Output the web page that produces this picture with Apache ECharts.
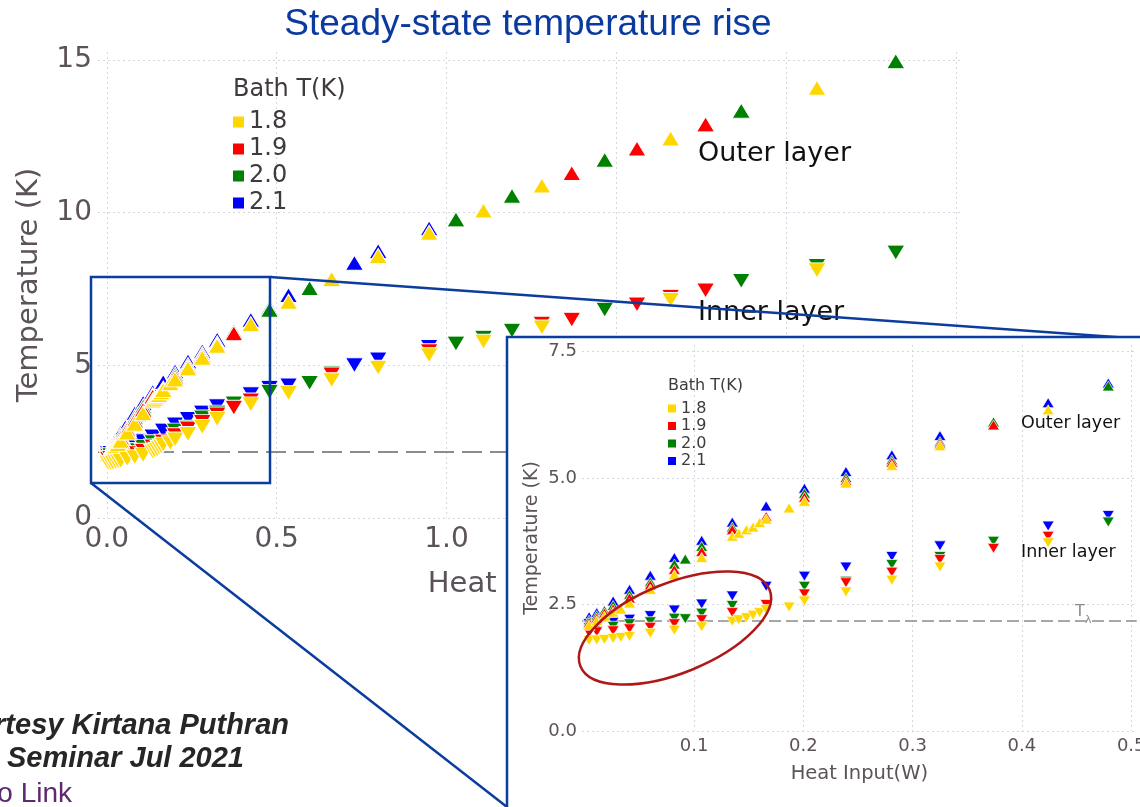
<!DOCTYPE html>
<html><head><meta charset="utf-8">
<script src="https://cdn.jsdelivr.net/npm/echarts@6/dist/echarts.min.js"></script>
<style>html,body{margin:0;padding:0;background:#fff}#c{width:1140px;height:807px}</style>
</head><body><div id="c"></div>
<script>
// ---------------- data ----------------
const bathTemps = ['1.8', '1.9', '2.0', '2.1'];
const tLambda = 2.17;
const mainXTicks = [0, 0.5, 1.0, 1.5, 2.0, 2.5];
const mainYTicks = [0, 5, 10, 15];
const insetXTicks = [0.1, 0.2, 0.3, 0.4, 0.5];
const insetYTicks = [0, 2.5, 5.0, 7.5];

// Outer layer (up triangles)
const outer18 = [[0.004,2.09],[0.011,2.18],[0.018,2.27],[0.026,2.35],[0.033,2.41],[0.041,2.53],[0.060,2.80],[0.082,3.09],[0.107,3.43],[0.135,3.85],[0.141,3.91],[0.148,3.98],[0.154,4.03],[0.160,4.12],[0.166,4.19],[0.187,4.41],[0.201,4.54],[0.239,4.90],[0.281,5.25],[0.325,5.64],[0.424,6.35],[0.535,7.08],[0.662,7.83],[0.799,8.58],[0.949,9.34],[1.109,10.07],[1.281,10.89],[1.660,12.43],[2.091,14.09]];
const outer19 = [[0.004,2.14],[0.011,2.23],[0.018,2.33],[0.026,2.41],[0.041,2.63],[0.060,2.89],[0.082,3.19],[0.107,3.55],[0.135,3.98],[0.166,4.24],[0.201,4.62],[0.239,4.95],[0.281,5.31],[0.325,5.68],[0.374,6.05],[1.369,11.30],[1.561,12.10],[1.763,12.89]];
const outer20 = [[0.004,2.19],[0.011,2.28],[0.018,2.38],[0.026,2.48],[0.041,2.70],[0.060,2.95],[0.082,3.30],[0.092,3.40],[0.107,3.65],[0.135,4.03],[0.201,4.70],[0.239,5.01],[0.281,5.36],[0.325,5.72],[0.374,6.11],[0.479,6.82],[0.597,7.53],[1.028,9.78],[1.193,10.55],[1.466,11.73],[1.868,13.34],[2.323,14.96]];
const outer21 = [[0.004,2.26],[0.011,2.34],[0.026,2.57],[0.041,2.80],[0.060,3.08],[0.082,3.43],[0.107,3.77],[0.135,4.13],[0.166,4.45],[0.201,4.80],[0.239,5.13],[0.281,5.46],[0.325,5.84],[0.424,6.49],[0.479,6.88],[0.535,7.30],[0.729,8.36],[0.799,8.74],[0.949,9.49]];

// Inner layer (down triangles)
const inner18 = [[0.004,1.79],[0.011,1.80],[0.018,1.81],[0.026,1.83],[0.033,1.85],[0.041,1.87],[0.060,1.93],[0.082,1.99],[0.107,2.06],[0.135,2.17],[0.141,2.20],[0.148,2.24],[0.154,2.29],[0.160,2.34],[0.166,2.40],[0.187,2.45],[0.201,2.57],[0.239,2.75],[0.281,2.98],[0.325,3.24],[0.424,3.72],[0.535,4.09],[0.662,4.51],[0.799,4.92],[0.949,5.33],[1.109,5.77],[1.281,6.24],[1.660,7.14],[2.091,8.11]];
const inner19 = [[0.004,1.94],[0.011,1.96],[0.026,1.98],[0.041,2.02],[0.060,2.05],[0.082,2.12],[0.107,2.20],[0.135,2.34],[0.166,2.50],[0.201,2.71],[0.239,2.93],[0.281,3.14],[0.325,3.39],[0.374,3.61],[0.424,3.85],[0.662,4.70],[0.949,5.46],[1.281,6.36],[1.369,6.49],[1.561,6.99],[1.660,7.24],[1.763,7.45]];
const inner20 = [[0.004,2.04],[0.011,2.05],[0.026,2.07],[0.041,2.12],[0.060,2.16],[0.082,2.23],[0.092,2.22],[0.107,2.33],[0.135,2.48],[0.201,2.86],[0.239,2.96],[0.281,3.29],[0.325,3.45],[0.374,3.75],[0.479,4.13],[0.597,4.42],[0.662,4.74],[1.028,5.71],[1.109,5.90],[1.193,6.13],[1.281,6.38],[1.466,6.82],[1.868,7.76],[2.091,8.25],[2.323,8.69]];
const inner21 = [[0.004,2.12],[0.011,2.13],[0.026,2.15],[0.041,2.21],[0.060,2.28],[0.082,2.39],[0.107,2.51],[0.135,2.67],[0.166,2.86],[0.201,3.06],[0.239,3.24],[0.281,3.45],[0.325,3.66],[0.424,4.05],[0.479,4.26],[0.535,4.34],[0.729,5.00],[0.799,5.19],[0.949,5.60]];

// ---------------- styles ----------------
const FONT = 'DejaVu Sans';
const TICK = '#5b5359';
const BLUE = '#0b3c9e';
const seriesColor = {'1.8':'#FFD700','1.9':'#FF0000','2.0':'#008000','2.1':'#0000FF'};
const dataByTemp = {
  '1.8': {outer: outer18, inner: inner18},
  '1.9': {outer: outer19, inner: inner19},
  '2.0': {outer: outer20, inner: inner20},
  '2.1': {outer: outer21, inner: inner21}
};
const drawOrder = ['2.1', '2.0', '1.9', '1.8'];

const series = [];
[0, 1].forEach(g => {
  drawOrder.forEach(t => {
    ['outer', 'inner'].forEach(layer => {
      const s = {
        type: 'scatter', name: t, xAxisIndex: g, yAxisIndex: g,
        data: dataByTemp[t][layer],
        symbol: 'triangle',
        symbolSize: g === 0 ? [18, 15] : [12, 10],
        symbolRotate: layer === 'inner' ? 180 : 0,
        itemStyle: {color: seriesColor[t], borderColor: '#ffffff', borderWidth: g === 0 ? 1 : 0.7, opacity: 1},
        z: g === 0 ? 2 : 10,
        silent: true, animation: false, clip: true,
        emphasis: {disabled: true}
      };
      if (t === '2.1' && layer === 'outer') {
        s.markLine = {
          silent: true, symbol: 'none', animation: false,
          z: g === 0 ? 1 : 9,
          label: {show: false},
          lineStyle: g === 0 ? {type: [20, 8], color: '#8c8c8c', width: 2}
                             : {type: [12, 5], color: '#8c8c8c', width: 1.5},
          data: [{yAxis: tLambda}]
        };
      }
      series.push(s);
    });
  });
});

function valAxis(o) {
  return Object.assign({
    type: 'value',
    axisLine: {show: false},
    nameLocation: 'middle',
    nameMoveOverlap: false
  }, o);
}

const gridLine = {show: true, lineStyle: {type: [2, 3], color: '#d6d6e0', width: 1}};

const option = {
  backgroundColor: '#ffffff',
  animation: false,
  grid: [
    {left: 98, top: 52, width: 864, height: 466, outerBoundsMode: 'none', containLabel: false},
    {left: 582, top: 345, width: 554.7, height: 386, outerBoundsMode: 'none', containLabel: false, z: 8}
  ],
  xAxis: [
    valAxis({gridIndex: 0, min: -0.026, max: 2.518, z: 0,
      axisTick: {show: false, customValues: mainXTicks},
      axisLabel: {customValues: mainXTicks, formatter: v => Number(v).toFixed(1), margin: 8, fontFamily: FONT, fontSize: 28, color: TICK},
      splitLine: gridLine,
      name: 'Heat Input(W)', nameGap: 52, nameTextStyle: {fontFamily: FONT, fontSize: 29, color: TICK}}),
    valAxis({gridIndex: 1, min: -0.0025, max: 0.505, z: 8,
      axisTick: {show: false, customValues: insetXTicks},
      axisLabel: {customValues: insetXTicks, formatter: v => Number(v).toFixed(1), margin: 6, fontFamily: FONT, fontSize: 18, color: TICK},
      splitLine: gridLine,
      name: 'Heat Input(W)', nameGap: 33, nameTextStyle: {fontFamily: FONT, fontSize: 19.5, color: TICK}})
  ],
  yAxis: [
    valAxis({gridIndex: 0, min: 0, max: 15.26, z: 0,
      axisTick: {show: false, customValues: mainYTicks},
      axisLabel: {customValues: mainYTicks, formatter: v => String(Math.round(v)), margin: 6, fontFamily: FONT, fontSize: 28, color: TICK},
      splitLine: gridLine,
      name: 'Temperature (K)', nameGap: 54, nameTextStyle: {fontFamily: FONT, fontSize: 29, color: TICK}}),
    valAxis({gridIndex: 1, min: 0, max: 7.63, z: 8,
      axisTick: {show: false, customValues: insetYTicks},
      axisLabel: {customValues: insetYTicks, formatter: v => Number(v).toFixed(1), margin: 5, fontFamily: FONT, fontSize: 18, color: TICK},
      splitLine: gridLine,
      name: 'Temperature (K)', nameGap: 40, nameTextStyle: {fontFamily: FONT, fontSize: 19, color: TICK}})
  ],
  legend: [
    {data: bathTemps, orient: 'vertical', left: 233, top: 110, icon: 'rect', itemWidth: 11, itemHeight: 11, itemGap: 3, padding: 0,
     selectedMode: false, itemStyle: {borderWidth: 0}, textStyle: {fontFamily: FONT, fontSize: 24, color: '#3e3a3e'}, z: 4},
    {data: bathTemps, orient: 'vertical', left: 668, top: 400.5, icon: 'rect', itemWidth: 8, itemHeight: 8, itemGap: 1.5, padding: 0,
     selectedMode: false, itemStyle: {borderWidth: 0}, textStyle: {fontFamily: FONT, fontSize: 16, color: '#3e3a3e'}, z: 11}
  ],
  series: series,
  graphic: [
    // main annotations
    {type: 'text', x: 233, y: 90, z: 3, style: {text: 'Bath T(K)', verticalAlign: 'middle', fontFamily: FONT, fontSize: 24, fill: '#3e3a3e'}},
    {type: 'text', x: 698, y: 154, z: 3, style: {text: 'Outer layer', verticalAlign: 'middle', fontFamily: FONT, fontSize: 27, fill: '#111111'}},
    {type: 'text', x: 698, y: 313, z: 3, style: {text: 'Inner layer', verticalAlign: 'middle', fontFamily: FONT, fontSize: 27, fill: '#111111'}},
    // zoom box and connectors
    {type: 'rect', z: 5, shape: {x: 91, y: 277, width: 179, height: 206}, style: {fill: 'none', stroke: BLUE, lineWidth: 2.5}},
    {type: 'line', z: 5, shape: {x1: 270, y1: 277, x2: 1145, y2: 339}, style: {stroke: BLUE, lineWidth: 2.5}},
    {type: 'line', z: 5, shape: {x1: 91, y1: 483, x2: 507, y2: 807}, style: {stroke: BLUE, lineWidth: 2.5}},
    // inset panel
    {type: 'rect', z: 6, shape: {x: 507, y: 337, width: 700, height: 520}, style: {fill: '#ffffff', stroke: BLUE, lineWidth: 2.5}},
    {type: 'text', x: 668, y: 386, z: 12, style: {text: 'Bath T(K)', verticalAlign: 'middle', fontFamily: FONT, fontSize: 16, fill: '#3e3a3e'}},
    {type: 'text', x: 1021, y: 423, z: 12, style: {text: 'Outer layer', verticalAlign: 'middle', fontFamily: FONT, fontSize: 17.5, fill: '#111111'}},
    {type: 'text', x: 1021, y: 552, z: 12, style: {text: 'Inner layer', verticalAlign: 'middle', fontFamily: FONT, fontSize: 17.5, fill: '#111111'}},
    {type: 'text', x: 1075, y: 612, z: 12, style: {text: 'T', verticalAlign: 'middle', fontFamily: FONT, fontSize: 16, fill: '#8c8c8c'}},
    {type: 'text', x: 1085, y: 620, z: 12, style: {text: 'λ', verticalAlign: 'middle', fontFamily: FONT, fontSize: 11, fill: '#8c8c8c'}},
    {type: 'ellipse', x: 675, y: 628, rotation: 22 * Math.PI / 180, z: 12,
     shape: {cx: 0, cy: 0, rx: 102, ry: 45}, style: {fill: 'none', stroke: '#b01818', lineWidth: 2.5}},
    // title
    {type: 'text', x: 528, y: 25, z: 20, style: {text: 'Steady-state temperature rise', align: 'center', verticalAlign: 'middle',
      fontFamily: 'Liberation Sans', fontSize: 37, fill: '#0a3aa0'}},
    // caption
    {type: 'text', x: 289, y: 726, z: 20, style: {text: 'Courtesy Kirtana Puthran', align: 'right', verticalAlign: 'middle',
      fontFamily: 'Liberation Sans', fontSize: 29, fontWeight: 'bold', fontStyle: 'italic', fill: '#262626'}},
    {type: 'text', x: 7, y: 759, z: 20, style: {text: 'Seminar Jul 2021', align: 'left', verticalAlign: 'middle',
      fontFamily: 'Liberation Sans', fontSize: 29, fontWeight: 'bold', fontStyle: 'italic', fill: '#262626'}},
    {type: 'text', x: 72, y: 794, z: 20, style: {text: 'Video Link', align: 'right', verticalAlign: 'middle',
      fontFamily: 'Liberation Sans', fontSize: 28, fill: '#5e2a6e'}}
  ]
};

const chart = echarts.init(document.getElementById('c'), null, {renderer: 'canvas', width: 1140, height: 807});
chart.setOption(option);
</script>
</body></html>
